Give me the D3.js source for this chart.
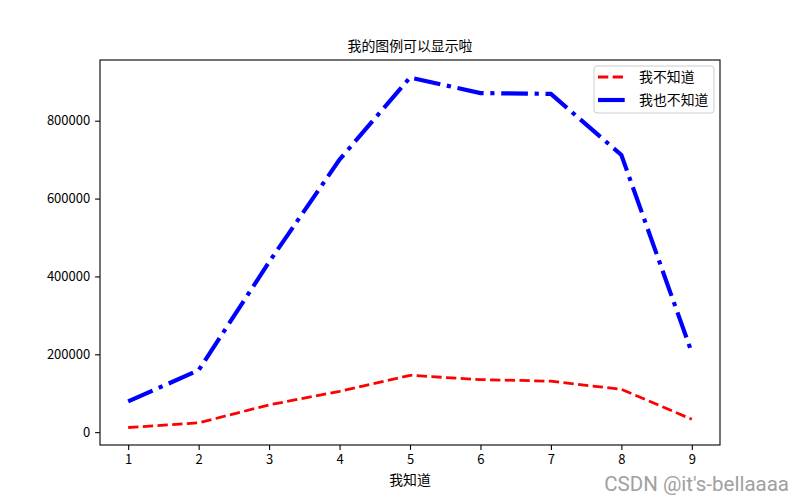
<!DOCTYPE html>
<html><head><meta charset="utf-8">
<script src="https://cdn.jsdelivr.net/npm/d3@7"></script>
<style>body{margin:0;background:#fff}svg{display:block}</style>
</head><body>
<script>
const xs = [1,2,3,4,5,6,7,8,9];
const series1 = [12000,24000,70000,105000,146000,135000,131000,110000,33000];
const series2 = [79000,159000,437000,700000,911000,871000,869000,712000,204000];
const yTicks = [0,200000,400000,600000,800000];
const names = ["我不知道","我也不知道"];
const title = "我的图例可以显示啦";
const xLabel = "我知道";
const watermark = "CSDN @it's-bellaaaa";

const W=800,H=500, L=100,R=720,T=60,B=445;
const font = "'Noto Sans CJK SC', 'DejaVu Sans', sans-serif";
const svg = d3.select("body").append("svg").attr("width",W).attr("height",H);

const allY = series1.concat(series2);
const ymin=d3.min(allY), ymax=d3.max(allY), yr=ymax-ymin;
const x = d3.scaleLinear().domain([0.6,9.4]).range([L,R]);
const y = d3.scaleLinear().domain([ymin-0.05*yr, ymax+0.05*yr]).range([B,T]);

const line = d3.line().x((d,i)=>x(xs[i])).y(d=>y(d));
svg.append("path").datum(series1).attr("d",line).attr("fill","none")
  .attr("stroke","red").attr("stroke-width",2.78).attr("stroke-dasharray","10.3,4.4");
svg.append("path").datum(series2).attr("d",line).attr("fill","none")
  .attr("stroke","blue").attr("stroke-width",4.17).attr("stroke-dasharray","26.7,6.7,4.2,6.7");

const xa = svg.append("g").attr("transform",`translate(0,${B})`)
  .call(d3.axisBottom(x).tickValues(xs).tickSize(4.9).tickPadding(4.9).tickFormat(d3.format("d")));
const ya = svg.append("g").attr("transform",`translate(${L},0)`)
  .call(d3.axisLeft(y).tickValues(yTicks).tickSize(4.9).tickPadding(4.9).tickFormat(d3.format("d")));
[xa,ya].forEach(a=>{
  a.select(".domain").remove();
  a.selectAll("line").attr("stroke","#000").attr("stroke-width",1.1);
  a.selectAll("text").attr("font-family",font).attr("font-size",13).attr("fill","#000");
});
svg.append("rect").attr("x",L).attr("y",T).attr("width",R-L).attr("height",B-T)
  .attr("fill","none").attr("stroke","#000").attr("stroke-width",1.1);

svg.append("text").attr("x",(L+R)/2).attr("y",51).attr("text-anchor","middle")
  .attr("font-family",font).attr("font-size",13.9).text(title);
svg.append("text").attr("x",(L+R)/2).attr("y",485).attr("text-anchor","middle")
  .attr("font-family",font).attr("font-size",13.9).text(xLabel);

// legend
const lg = svg.append("g");
lg.append("rect").attr("x",594).attr("y",66).attr("width",120).attr("height",47).attr("rx",3)
  .attr("fill","#fff").attr("fill-opacity",0.8).attr("stroke","#ccc").attr("stroke-width",1);
const styles=[{c:"red",w:2.78,d:"10.3,4.4"},{c:"blue",w:4.17,d:"26.7,6.7,4.2,6.7"}];
names.forEach((n,i)=>{
  const yy = 77+i*23;
  lg.append("line").attr("x1",598).attr("x2",626).attr("y1",yy).attr("y2",yy)
    .attr("stroke",styles[i].c).attr("stroke-width",styles[i].w).attr("stroke-dasharray",styles[i].d);
  lg.append("text").attr("x",639).attr("y",yy+5).attr("font-family",font).attr("font-size",13.9).text(n);
});

svg.append("text").attr("x",789).attr("y",491).attr("text-anchor","end")
  .attr("font-family","'Liberation Sans Narrow','Roboto','DejaVu Sans Condensed',sans-serif").attr("font-size",20.5)
  .attr("fill","#a0a0a0").text(watermark);
</script>
</body></html>
